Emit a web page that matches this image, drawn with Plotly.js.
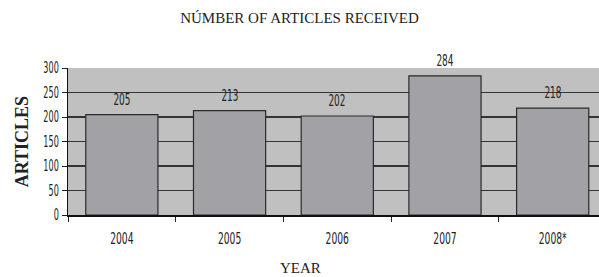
<!DOCTYPE html>
<html><head><meta charset="utf-8">
<script src="https://cdn.plot.ly/plotly-3.0.1.min.js"></script>
<style>html,body{margin:0;padding:0;background:#fff;}#chart{width:599px;height:277px;}</style>
</head><body><div id="chart"></div>
<script>
const years = ["2004", "2005", "2006", "2007", "2008*"];
const articles = [205, 213, 202, 284, 218];
const yTicks = [0, 50, 100, 150, 200, 250, 300];

const narrow = "DejaVu Sans Condensed";
const serif = "Liberation Serif";

const trace = {
  type: "bar",
  x: years,
  y: articles,
  width: 0.67,
  marker: {color: "#a2a2a6", line: {color: "#2a2a2a", width: 1.2}},
  hoverinfo: "none"
};

const annotations = years.map((yr, i) => ({
  x: i, y: articles[i], xref: "x", yref: "y",
  text: String(articles[i]), showarrow: false,
  yanchor: "bottom", yshift: 4,
  font: {family: narrow, size: 15, color: "#222"}
}));
annotations.push({
  x: 0.437, y: -0.36, xref: "paper", yref: "paper",
  text: "YEAR", showarrow: false, xanchor: "center", yanchor: "middle",
  font: {family: serif, size: 15, color: "#222"}
});
annotations.push({
  x: -0.087, y: 0.5, xref: "paper", yref: "paper",
  text: "ARTICLES", showarrow: false, xanchor: "center", yanchor: "middle",
  textangle: -90,
  font: {family: serif, size: 18, color: "#222", weight: "bold"}
});

const layout = {
  width: 599, height: 277,
  margin: {l: 68, r: 0, t: 68, b: 62},
  paper_bgcolor: "#ffffff",
  plot_bgcolor: "#c0c0c0",
  showlegend: false,
  title: {text: "NÚMBER OF ARTICLES RECEIVED", x: 0.5, xanchor: "center", y: 0.935, yanchor: "middle",
          font: {family: serif, size: 15, color: "#222"}},
  xaxis: {
    type: "category", range: [-0.5, 4.43],
    tickson: "boundaries", ticks: "outside", ticklen: 5, tickcolor: "#222", tickwidth: 1,
    showgrid: false, showline: true, linecolor: "#111", linewidth: 1.5,
    ticklabelstandoff: 9,
    tickfont: {family: narrow, size: 15, color: "#222"},
    fixedrange: true
  },
  yaxis: {
    range: [0, 300], tickvals: yTicks,
    ticks: "outside", ticklen: 5, tickcolor: "#222",
    showline: true, linecolor: "#111", linewidth: 1.2,
    showgrid: true, gridcolor: "#333", gridwidth: 1.5,
    zeroline: false,
    tickfont: {family: narrow, size: 15, color: "#222"},
    fixedrange: true
  },
  annotations: annotations
};

Plotly.newPlot("chart", [trace], layout, {displayModeBar: false, staticPlot: true}).then(gd => {
  const squeeze = (sel, f) => gd.querySelectorAll(sel).forEach(t => {
    const w = t.getComputedTextLength();
    if (w > 0) {
      t.setAttribute("textLength", (w * f).toFixed(2));
      t.setAttribute("lengthAdjust", "spacingAndGlyphs");
    }
  });
  squeeze(".xtick text", 0.68);
  squeeze(".ytick text", 0.6);
  gd.querySelectorAll(".annotation-text").forEach(t => {
    if (/^\d+$/.test(t.textContent)) {
      const w = t.getComputedTextLength();
      t.setAttribute("textLength", (w * 0.66).toFixed(2));
      t.setAttribute("lengthAdjust", "spacingAndGlyphs");
    }
  });
});
</script></body></html>
